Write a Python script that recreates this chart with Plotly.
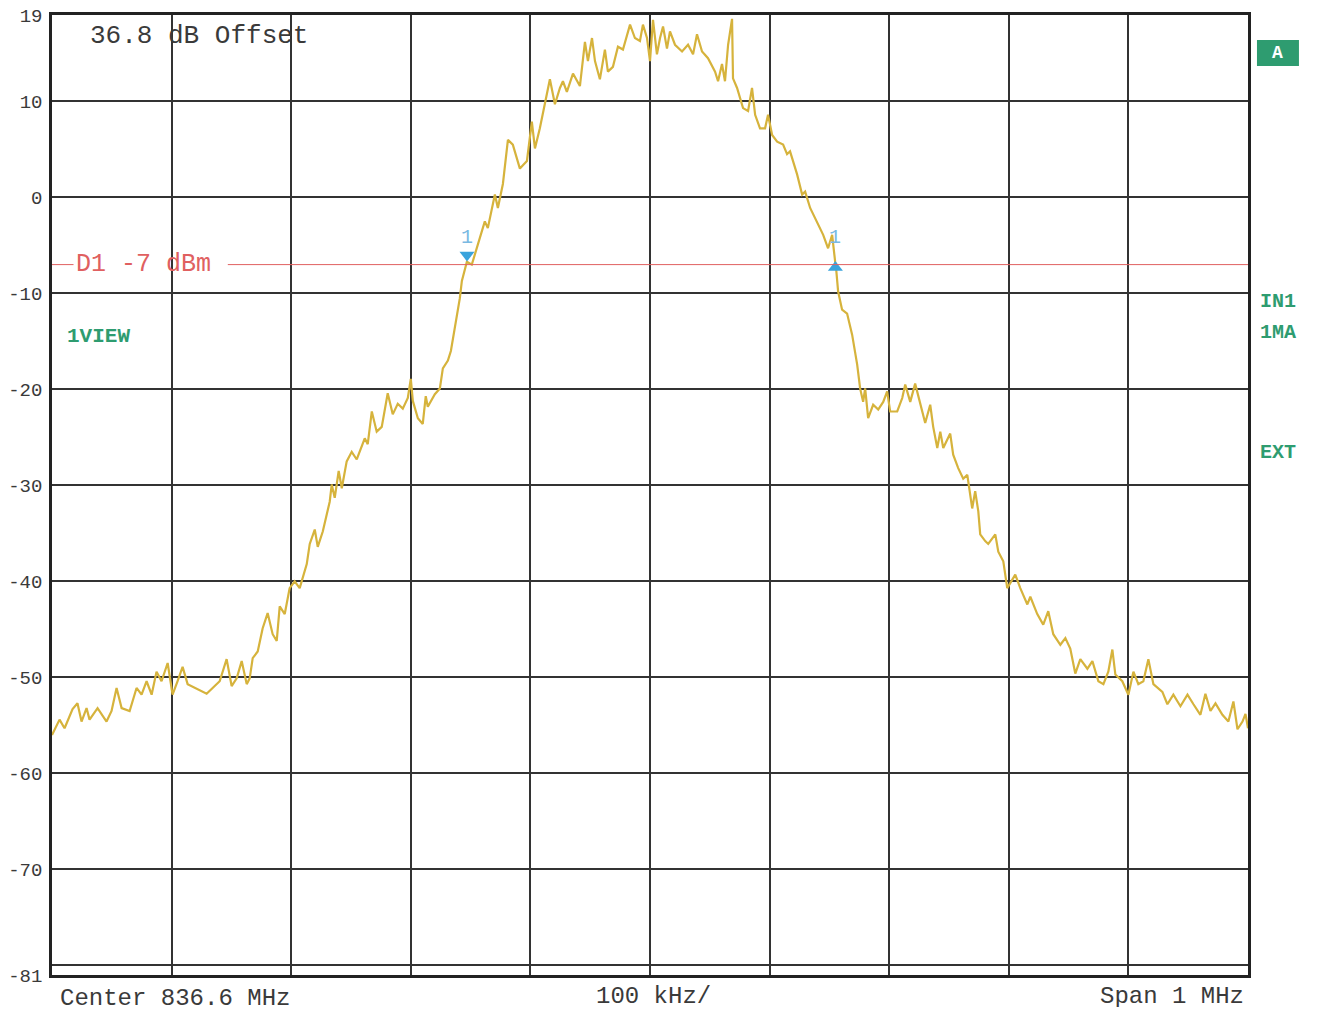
import plotly.graph_objects as go

# Spectrum trace: frequency offset from centre (kHz) and level (dBm)
freq_khz = [-500.0, -493.7, -489.5, -482.8, -478.7, -475.3, -471.1, -468.6, -461.9, -454.4,
            -450.2, -446.0, -441.8, -435.1, -429.3, -425.1, -420.9, -416.7, -412.6, -408.4,
            -403.3, -399.2, -395.0, -390.8, -386.6, -376.6, -370.7, -365.7, -359.8, -354.0,
            -349.8, -345.6, -341.4, -337.2, -334.7, -332.2, -328.0, -323.9, -319.7, -315.5,
            -312.1, -309.6, -305.4, -301.3, -297.1, -292.9, -287.0, -284.5, -280.3, -277.8,
            -273.6, -267.8, -266.1, -263.6, -260.3, -257.7, -253.6, -249.4, -245.2, -238.5,
            -236.0, -232.6, -228.5, -224.3, -219.3, -215.1, -210.9, -206.7, -202.5, -200.0,
            -198.3, -194.1, -190.0, -187.5, -185.8, -179.9, -175.7, -173.2, -169.0, -166.5,
            -163.2, -160.7, -159.0, -157.3, -153.1, -149.0, -143.9, -138.1, -135.6, -129.7,
            -127.2, -123.0, -118.8, -114.7, -108.8, -102.9, -98.8, -96.2, -92.1, -85.4,
            -83.7, -79.5, -75.3, -72.8, -69.5, -64.4, -58.6, -54.4, -51.9, -48.5,
            -46.0, -41.9, -37.7, -35.2, -31.0, -26.8, -22.6, -16.7, -12.6, -8.4,
            -5.9, -2.5, 0.0, 2.5, 5.8, 8.4, 10.9, 14.2, 16.7, 20.9,
            26.8, 31.8, 36.0, 39.3, 43.5, 48.5, 54.4, 56.9, 60.2, 62.7,
            65.3, 68.6, 69.4, 72.8, 77.8, 82.0, 85.3, 87.9, 92.0, 96.2,
            98.7, 102.1, 106.3, 111.3, 114.6, 117.1, 123.0, 127.2, 129.7, 133.9,
            139.7, 144.8, 148.9, 152.3, 154.8, 155.6, 157.3, 160.6, 164.8, 169.0,
            173.2, 175.7, 178.2, 179.9, 182.4, 186.6, 190.8, 195.0, 198.3, 200.8,
            206.7, 210.9, 213.4, 217.6, 221.7, 225.9, 230.1, 234.3, 236.8, 240.2,
            242.7, 245.2, 251.0, 253.5, 257.7, 261.9, 265.3, 269.4, 271.9, 274.5,
            276.1, 280.3, 282.8, 288.7, 291.2, 295.4, 298.7, 305.4, 309.6, 315.5,
            318.0, 323.8, 328.8, 333.0, 337.2, 343.1, 347.3, 351.4, 355.6, 359.8,
            365.7, 369.9, 374.9, 379.1, 383.2, 386.6, 389.1, 394.9, 400.0, 404.2,
            408.3, 412.5, 416.7, 420.9, 428.4, 432.6, 437.6, 443.5, 449.4, 454.4,
            460.2, 464.4, 468.6, 472.8, 478.6, 483.6, 487.8, 491.2, 495.4, 497.9,
            500.0]

level_dbm = [-56.0, -54.4, -55.3, -53.3, -52.7, -54.6, -53.2, -54.4, -53.2, -54.6,
             -53.5, -51.1, -53.2, -53.5, -51.1, -51.8, -50.4, -51.8, -49.4, -50.4,
             -48.5, -51.8, -50.4, -48.9, -50.7, -51.3, -51.7, -51.1, -50.4, -48.1,
             -50.9, -50.1, -48.3, -50.7, -50.1, -48.0, -47.3, -44.9, -43.3, -45.5,
             -46.2, -42.6, -43.4, -40.7, -40.0, -40.7, -38.2, -36.1, -34.6, -36.4,
             -34.8, -31.7, -29.9, -31.3, -28.5, -30.3, -27.5, -26.5, -27.3, -25.1,
             -25.7, -22.3, -24.4, -23.9, -20.4, -22.6, -21.5, -22.0, -20.9, -18.9,
             -21.2, -23.0, -23.6, -20.7, -21.8, -20.5, -19.9, -17.8, -17.0, -16.0,
             -13.5, -12.0, -10.5, -8.7, -6.7, -7.0, -4.9, -2.5, -3.2, 0.3,
             -1.1, 1.4, 6.0, 5.5, 3.0, 3.8, 7.9, 5.1, 7.2, 11.0,
             12.3, 9.7, 11.4, 12.1, 11.0, 12.9, 11.6, 16.2, 14.2, 16.6,
             14.2, 12.3, 15.4, 13.1, 13.6, 15.7, 15.4, 18.0, 16.6, 16.3,
             18.0, 16.6, 14.2, 18.5, 14.9, 16.6, 17.8, 15.5, 17.3, 15.9,
             15.2, 15.9, 14.9, 17.0, 15.2, 14.5, 13.1, 12.1, 13.9, 12.1,
             15.9, 18.6, 12.4, 11.4, 9.3, 9.0, 11.4, 8.6, 7.2, 7.2,
             8.6, 6.5, 5.8, 5.5, 4.5, 4.8, 2.4, 0.3, 0.6, -1.1,
             -2.5, -3.9, -5.3, -3.9, -6.7, -7.4, -9.8, -11.7, -12.1, -14.3,
             -17.4, -19.9, -21.3, -19.9, -23.0, -21.6, -22.1, -21.3, -20.2, -22.3,
             -22.3, -20.9, -19.5, -21.3, -19.4, -21.6, -23.5, -21.6, -23.9, -26.1,
             -24.4, -26.1, -24.6, -26.8, -28.2, -29.3, -28.9, -32.4, -30.6, -32.7,
             -35.1, -35.8, -36.1, -35.1, -36.9, -37.9, -40.7, -39.3, -40.7, -42.4,
             -41.6, -43.4, -44.5, -43.1, -45.5, -46.6, -45.9, -47.0, -49.6, -48.1,
             -49.1, -48.3, -50.4, -50.7, -49.4, -47.1, -49.7, -50.4, -51.8, -49.4,
             -50.7, -50.4, -48.1, -50.7, -51.5, -52.8, -51.8, -53.0, -51.8, -52.8,
             -53.9, -51.7, -53.5, -52.7, -53.9, -54.6, -52.5, -55.4, -54.6, -53.8,
             -55.3]

# Markers (delta-1 crossing points)
marker_freq = [-153.0, 155.0]
marker_level = [-6.0, -7.3]
marker_symbol = ["triangle-down", "triangle-up"]

# Display line D1
d1_level = -7

# Axis
y_tick_vals = [19, 10, 0, -10, -20, -30, -40, -50, -60, -70, -80, -81]
y_tick_text = ["19", "10", "0", "-10", "-20", "-30", "-40", "-50", "-60", "-70", "", "-81"]
x_tick_vals = [-500, -400, -300, -200, -100, 0, 100, 200, 300, 400, 500]

MONO = "Liberation Mono"
TEXT = "#3a3a3a"
GREEN = "#2e9c70"
TRACE = "#d6b33c"
RED = "#e06060"
BLUE = "#3aa3dc"

fig = go.Figure()

fig.add_trace(go.Scatter(x=freq_khz, y=level_dbm, mode="lines",
                         line=dict(color=TRACE, width=2.2), hoverinfo="skip",
                         showlegend=False))

fig.add_trace(go.Scatter(x=marker_freq, y=marker_level, mode="markers",
                         marker=dict(symbol=marker_symbol, size=13, color=BLUE),
                         showlegend=False, hoverinfo="skip"))

# D1 reference line (interrupted by its label)
fig.add_shape(type="line", xref="x", yref="y", x0=-500, x1=-482, y0=d1_level, y1=d1_level,
              line=dict(color=RED, width=1))
fig.add_shape(type="line", xref="x", yref="y", x0=-353, x1=500, y0=d1_level, y1=d1_level,
              line=dict(color=RED, width=1))
fig.add_annotation(x=-482, y=d1_level, xref="x", yref="y", text="D1 -7 dBm",
                   showarrow=False, xanchor="left", yanchor="middle",
                   font=dict(family=MONO, size=25, color=RED))

# Marker numbers
for f in marker_freq:
    fig.add_annotation(x=f, y=-4.2, xref="x", yref="y", text="1", showarrow=False,
                       xanchor="center", yanchor="middle",
                       font=dict(family=MONO, size=20, color="#7ab9e2"))

# Texts
fig.add_annotation(x=0.030, y=0.978, xref="paper", yref="paper", text="36.8 dB Offset",
                   showarrow=False, xanchor="left", yanchor="middle",
                   font=dict(family=MONO, size=26, color=TEXT))
fig.add_annotation(x=0.0105, y=0.6646, xref="paper", yref="paper", text="<b>1VIEW</b>",
                   showarrow=False, xanchor="left", yanchor="middle",
                   font=dict(family=MONO, size=21, color=GREEN))
fig.add_annotation(x=0.005, y=-0.024, xref="paper", yref="paper", text="Center 836.6 MHz",
                   showarrow=False, xanchor="left", yanchor="middle",
                   font=dict(family=MONO, size=24, color=TEXT))
fig.add_annotation(x=0.503, y=-0.022, xref="paper", yref="paper", text="100 kHz/",
                   showarrow=False, xanchor="center", yanchor="middle",
                   font=dict(family=MONO, size=24, color=TEXT))
fig.add_annotation(x=0.998, y=-0.022, xref="paper", yref="paper", text="Span 1 MHz",
                   showarrow=False, xanchor="right", yanchor="middle",
                   font=dict(family=MONO, size=24, color=TEXT))

# Right side status labels
fig.add_shape(type="rect", xref="paper", yref="paper", x0=1.0075, x1=1.0426, y0=0.947, y1=0.974,
              fillcolor=GREEN, line=dict(width=0))
fig.add_annotation(x=1.025, y=0.9605, xref="paper", yref="paper", text="<b>A</b>",
                   showarrow=False, xanchor="center", yanchor="middle",
                   font=dict(family=MONO, size=18, color="white"))
for txt, yy in [("IN1", 0.702), ("1MA", 0.669), ("EXT", 0.544)]:
    fig.add_annotation(x=1.0084, y=yy, xref="paper", yref="paper", text="<b>" + txt + "</b>",
                       showarrow=False, xanchor="left", yanchor="middle",
                       font=dict(family=MONO, size=20, color=GREEN))

# The page adds an 8 px body margin, so the figure is sized to fit the window exactly
fig.update_layout(
    width=1301, height=999,
    margin=dict(l=44, r=61, t=7, b=32, autoexpand=False),
    paper_bgcolor="white", plot_bgcolor="white",
    showlegend=False,
    xaxis=dict(range=[-500, 500], tickvals=x_tick_vals, showticklabels=False,
               showgrid=True, gridcolor="#333333", gridwidth=1.5, zeroline=False,
               showline=True, mirror=True, linecolor="#222222", linewidth=2.5, ticks="",
               automargin=False),
    yaxis=dict(range=[-81, 19], tickvals=y_tick_vals, ticktext=y_tick_text,
               showgrid=True, gridcolor="#333333", gridwidth=1.5, zeroline=False,
               showline=True, mirror=True, linecolor="#222222", linewidth=2.5, ticks="",
               tickfont=dict(family=MONO, size=19, color=TEXT), ticklabelstandoff=3,
               ticklabeloverflow="allow", automargin=False),
)

fig.write_html("out.html")
